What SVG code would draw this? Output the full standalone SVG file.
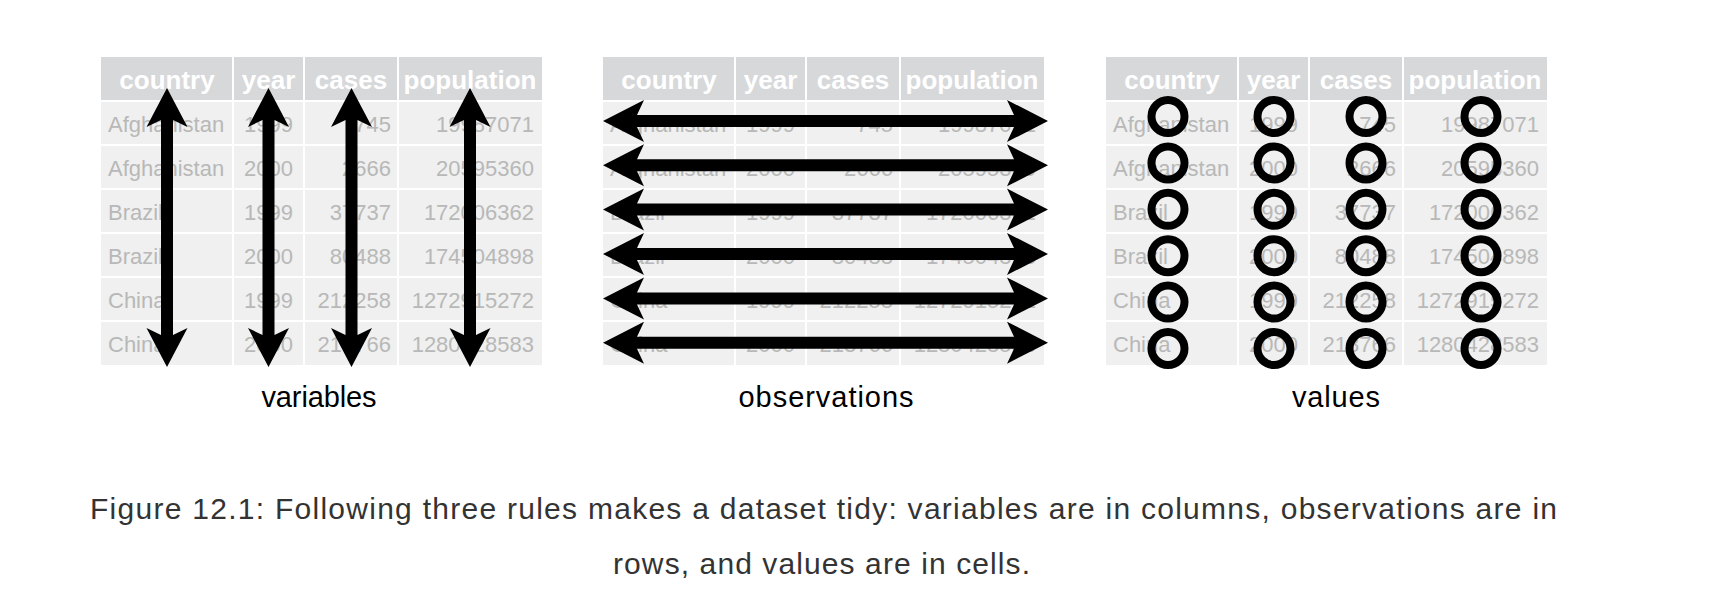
<svg xmlns="http://www.w3.org/2000/svg" xmlns:xlink="http://www.w3.org/1999/xlink" width="1728" height="608" viewBox="0 0 1728 608">
<style>
.hdr{fill:#d7d8da}
.body{fill:#eff0ef}
.grid{stroke:#ffffff;stroke-width:2;fill:none}
.ht{font-family:"Liberation Sans",Arial,sans-serif;font-weight:bold;font-size:26px;fill:#ffffff;text-anchor:middle}
.bt{font-family:"Liberation Sans",Arial,sans-serif;font-size:22px;fill:#b8b8b8}
.r{text-anchor:end}
.lbl{font-family:"Liberation Sans",Arial,sans-serif;font-size:29px;fill:#000000;text-anchor:middle}
.cap{font-family:"Liberation Sans",Arial,sans-serif;font-size:30px;fill:#333333;text-anchor:middle}
.ring{fill:none;stroke:#000000;stroke-width:8}
.arrow{fill:#000000}
</style>
<defs>
<path id="varr" d="M0,88 L20.5,127 L6,120 L6,335 L20.5,328 L0,367 L-20.5,328 L-6,335 L-6,120 L-20.5,127 Z"/>
<path id="harr" d="M603,0 L644,-21 L637,-6 L1014,-6 L1007,-21 L1048,0 L1007,21 L1014,6 L637,6 L644,21 Z"/>
</defs>
<rect width="1728" height="608" fill="#ffffff"/>

<g id="table-variables" transform="translate(101,0)">
<rect class="hdr" x="0" y="57" width="441" height="44"/>
<rect class="body" x="0" y="101" width="441" height="264"/>
<path class="grid" d="M132,57V365M203,57V365M297,57V365M0,101H441M0,145H441M0,189H441M0,233H441M0,277H441M0,321H441"/>
<text class="ht" x="66" y="88.5">country</text><text class="ht" x="167.5" y="88.5">year</text><text class="ht" x="250" y="88.5">cases</text><text class="ht" x="369" y="88.5">population</text>
<text class="bt" x="7" y="131.7">Afghanistan</text><text class="bt r" x="192" y="131.7">1999</text><text class="bt r" x="290" y="131.7">745</text><text class="bt r" x="433" y="131.7">19987071</text>
<text class="bt" x="7" y="175.7">Afghanistan</text><text class="bt r" x="192" y="175.7">2000</text><text class="bt r" x="290" y="175.7">2666</text><text class="bt r" x="433" y="175.7">20595360</text>
<text class="bt" x="7" y="219.7">Brazil</text><text class="bt r" x="192" y="219.7">1999</text><text class="bt r" x="290" y="219.7">37737</text><text class="bt r" x="433" y="219.7">172006362</text>
<text class="bt" x="7" y="263.7">Brazil</text><text class="bt r" x="192" y="263.7">2000</text><text class="bt r" x="290" y="263.7">80488</text><text class="bt r" x="433" y="263.7">174504898</text>
<text class="bt" x="7" y="307.7">China</text><text class="bt r" x="192" y="307.7">1999</text><text class="bt r" x="290" y="307.7">212258</text><text class="bt r" x="433" y="307.7">1272915272</text>
<text class="bt" x="7" y="351.7">China</text><text class="bt r" x="192" y="351.7">2000</text><text class="bt r" x="290" y="351.7">213766</text><text class="bt r" x="433" y="351.7">1280428583</text>
</g>

<g id="table-observations" transform="translate(603,0)">
<rect class="hdr" x="0" y="57" width="441" height="44"/>
<rect class="body" x="0" y="101" width="441" height="264"/>
<path class="grid" d="M132,57V365M203,57V365M297,57V365M0,101H441M0,145H441M0,189H441M0,233H441M0,277H441M0,321H441"/>
<text class="ht" x="66" y="88.5">country</text><text class="ht" x="167.5" y="88.5">year</text><text class="ht" x="250" y="88.5">cases</text><text class="ht" x="369" y="88.5">population</text>
<text class="bt" x="7" y="131.7">Afghanistan</text><text class="bt r" x="192" y="131.7">1999</text><text class="bt r" x="290" y="131.7">745</text><text class="bt r" x="433" y="131.7">19987071</text>
<text class="bt" x="7" y="175.7">Afghanistan</text><text class="bt r" x="192" y="175.7">2000</text><text class="bt r" x="290" y="175.7">2666</text><text class="bt r" x="433" y="175.7">20595360</text>
<text class="bt" x="7" y="219.7">Brazil</text><text class="bt r" x="192" y="219.7">1999</text><text class="bt r" x="290" y="219.7">37737</text><text class="bt r" x="433" y="219.7">172006362</text>
<text class="bt" x="7" y="263.7">Brazil</text><text class="bt r" x="192" y="263.7">2000</text><text class="bt r" x="290" y="263.7">80488</text><text class="bt r" x="433" y="263.7">174504898</text>
<text class="bt" x="7" y="307.7">China</text><text class="bt r" x="192" y="307.7">1999</text><text class="bt r" x="290" y="307.7">212258</text><text class="bt r" x="433" y="307.7">1272915272</text>
<text class="bt" x="7" y="351.7">China</text><text class="bt r" x="192" y="351.7">2000</text><text class="bt r" x="290" y="351.7">213766</text><text class="bt r" x="433" y="351.7">1280428583</text>
</g>

<g id="table-values" transform="translate(1106,0)">
<rect class="hdr" x="0" y="57" width="441" height="44"/>
<rect class="body" x="0" y="101" width="441" height="264"/>
<path class="grid" d="M132,57V365M203,57V365M297,57V365M0,101H441M0,145H441M0,189H441M0,233H441M0,277H441M0,321H441"/>
<text class="ht" x="66" y="88.5">country</text><text class="ht" x="167.5" y="88.5">year</text><text class="ht" x="250" y="88.5">cases</text><text class="ht" x="369" y="88.5">population</text>
<text class="bt" x="7" y="131.7">Afghanistan</text><text class="bt r" x="192" y="131.7">1999</text><text class="bt r" x="290" y="131.7">745</text><text class="bt r" x="433" y="131.7">19987071</text>
<text class="bt" x="7" y="175.7">Afghanistan</text><text class="bt r" x="192" y="175.7">2000</text><text class="bt r" x="290" y="175.7">2666</text><text class="bt r" x="433" y="175.7">20595360</text>
<text class="bt" x="7" y="219.7">Brazil</text><text class="bt r" x="192" y="219.7">1999</text><text class="bt r" x="290" y="219.7">37737</text><text class="bt r" x="433" y="219.7">172006362</text>
<text class="bt" x="7" y="263.7">Brazil</text><text class="bt r" x="192" y="263.7">2000</text><text class="bt r" x="290" y="263.7">80488</text><text class="bt r" x="433" y="263.7">174504898</text>
<text class="bt" x="7" y="307.7">China</text><text class="bt r" x="192" y="307.7">1999</text><text class="bt r" x="290" y="307.7">212258</text><text class="bt r" x="433" y="307.7">1272915272</text>
<text class="bt" x="7" y="351.7">China</text><text class="bt r" x="192" y="351.7">2000</text><text class="bt r" x="290" y="351.7">213766</text><text class="bt r" x="433" y="351.7">1280428583</text>
</g>

<g id="connectors">
<g id="column-arrows" class="arrow">
<use xlink:href="#varr" href="#varr" transform="translate(167,0)"/>
<use xlink:href="#varr" href="#varr" transform="translate(268.5,0)"/>
<use xlink:href="#varr" href="#varr" transform="translate(351.5,0)"/>
<use xlink:href="#varr" href="#varr" transform="translate(470,0)"/>
</g>
<g id="row-arrows" class="arrow">
<use xlink:href="#harr" href="#harr" transform="translate(0,121)"/>
<use xlink:href="#harr" href="#harr" transform="translate(0,165.3)"/>
<use xlink:href="#harr" href="#harr" transform="translate(0,209.6)"/>
<use xlink:href="#harr" href="#harr" transform="translate(0,254)"/>
<use xlink:href="#harr" href="#harr" transform="translate(0,298.4)"/>
<use xlink:href="#harr" href="#harr" transform="translate(0,342.7)"/>
</g>
</g>

<g id="cell-rings" transform="translate(1106,0)">
<circle class="ring" cx="62" cy="116.5" r="16.5"/><circle class="ring" cx="168" cy="116.5" r="16.5"/><circle class="ring" cx="260" cy="116.5" r="16.5"/><circle class="ring" cx="375" cy="116.5" r="16.5"/>
<circle class="ring" cx="62" cy="162.9" r="16.5"/><circle class="ring" cx="168" cy="162.9" r="16.5"/><circle class="ring" cx="260" cy="162.9" r="16.5"/><circle class="ring" cx="375" cy="162.9" r="16.5"/>
<circle class="ring" cx="62" cy="209.3" r="16.5"/><circle class="ring" cx="168" cy="209.3" r="16.5"/><circle class="ring" cx="260" cy="209.3" r="16.5"/><circle class="ring" cx="375" cy="209.3" r="16.5"/>
<circle class="ring" cx="62" cy="255.7" r="16.5"/><circle class="ring" cx="168" cy="255.7" r="16.5"/><circle class="ring" cx="260" cy="255.7" r="16.5"/><circle class="ring" cx="375" cy="255.7" r="16.5"/>
<circle class="ring" cx="62" cy="302.1" r="16.5"/><circle class="ring" cx="168" cy="302.1" r="16.5"/><circle class="ring" cx="260" cy="302.1" r="16.5"/><circle class="ring" cx="375" cy="302.1" r="16.5"/>
<circle class="ring" cx="62" cy="348.5" r="16.5"/><circle class="ring" cx="168" cy="348.5" r="16.5"/><circle class="ring" cx="260" cy="348.5" r="16.5"/><circle class="ring" cx="375" cy="348.5" r="16.5"/>
</g>

<g id="labels">
<text class="lbl" x="319" y="407" textLength="115" lengthAdjust="spacing">variables</text>
<text class="lbl" x="826" y="407" textLength="175" lengthAdjust="spacing">observations</text>
<text class="lbl" x="1336" y="407" textLength="88" lengthAdjust="spacing">values</text>
</g>

<g id="caption">
<text class="cap" x="823.5" y="519" textLength="1467" lengthAdjust="spacing">Figure 12.1: Following three rules makes a dataset tidy: variables are in columns, observations are in</text>
<text class="cap" x="821.5" y="574" textLength="417" lengthAdjust="spacing">rows, and values are in cells.</text>
</g>
</svg>
